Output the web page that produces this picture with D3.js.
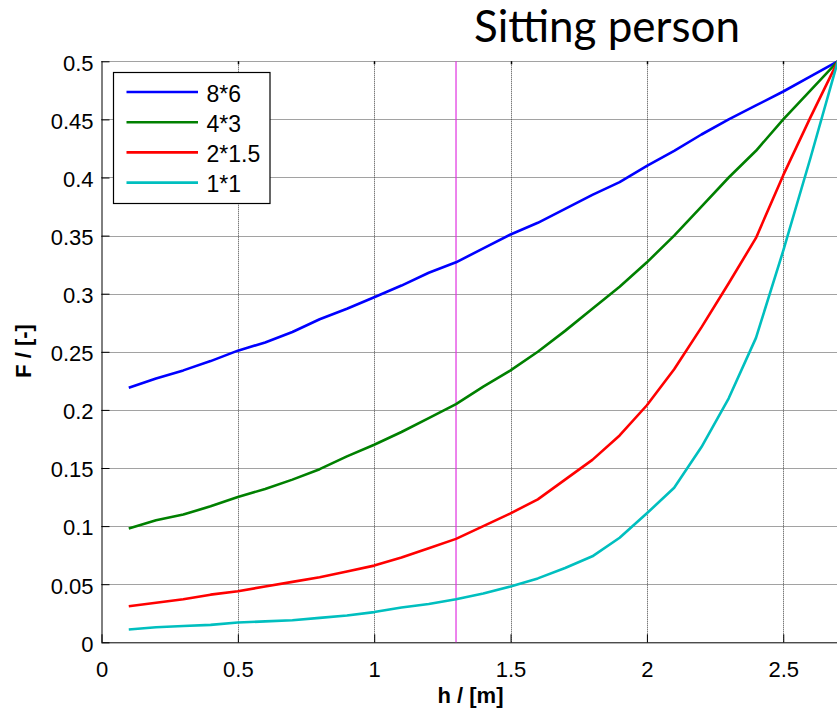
<!DOCTYPE html>
<html>
<head>
<meta charset="utf-8">
<script src="https://cdn.jsdelivr.net/npm/d3@7/dist/d3.min.js"></script>
<style>
  html, body { margin: 0; padding: 0; background: #fff; }
  svg { display: block; }
</style>
</head>
<body>
<svg id="chart" width="837" height="708"></svg>
<script>
// ---- data ----
const hValues = [0.1,0.2,0.3,0.4,0.5,0.6,0.7,0.8,0.9,1.0,1.1,1.2,1.3,1.4,1.5,1.6,1.7,1.8,1.9,2.0,2.1,2.2,2.3,2.4,2.5,2.6,2.7];
const series8x6 = [0.219,0.227,0.234,0.242,0.251,0.258,0.267,0.278,0.287,0.297,0.307,0.318,0.327,0.339,0.351,0.361,0.373,0.385,0.396,0.410,0.423,0.437,0.450,0.462,0.474,0.487,0.500];
const series4x3 = [0.098,0.105,0.110,0.117,0.125,0.132,0.140,0.149,0.160,0.170,0.181,0.193,0.205,0.220,0.234,0.250,0.268,0.287,0.306,0.327,0.350,0.375,0.400,0.423,0.450,0.475,0.500];
const series2x15 = [0.031,0.034,0.037,0.041,0.044,0.048,0.052,0.056,0.061,0.066,0.073,0.081,0.089,0.100,0.111,0.123,0.140,0.157,0.178,0.204,0.235,0.271,0.309,0.348,0.402,0.452,0.500];
const series1x1 = [0.011,0.013,0.014,0.015,0.017,0.018,0.019,0.021,0.023,0.026,0.030,0.033,0.037,0.042,0.048,0.055,0.064,0.074,0.090,0.111,0.133,0.168,0.210,0.262,0.337,0.417,0.500];
const seriesNames = ["8*6","4*3","2*1.5","1*1"];
const xTicks = [0,0.5,1,1.5,2,2.5];
const yTicks = [0,0.05,0.1,0.15,0.2,0.25,0.3,0.35,0.4,0.45,0.5];
const markerH = 1.3;
const titleText = "Sitting person";
const xLabel = "h / [m]";
const yLabel = "F / [-]";

// ---- drawing ----
const colors = ["#0000ff","#008000","#ff0000","#00bfbf"];
const allSeries = [series8x6, series4x3, series2x15, series1x1];

const svg = d3.select("#chart");
const pL = 101.5, pR = 837.8, pT = 61.3, pB = 642.3;
const x = d3.scaleLinear().domain([0, 2.7]).range([pL, pR]);
const y = d3.scaleLinear().domain([0, 0.5]).range([pB, pT]);

svg.append("rect").attr("width", 837).attr("height", 708).attr("fill", "#fff");

const fmt = d => String(+d.toFixed(2));
const tickFont = "'Liberation Sans', Arial, sans-serif";

// grid
const grid = svg.append("g");
grid.selectAll("line.gx").data(xTicks.filter(d => d > 0)).join("line")
  .attr("x1", d => Math.round(x(d)) + 0.5).attr("x2", d => Math.round(x(d)) + 0.5)
  .attr("y1", pT).attr("y2", pB)
  .attr("stroke", "#444").attr("stroke-width", 1).attr("stroke-dasharray", "1,1");
grid.selectAll("line.gy").data(yTicks.filter(d => d > 0)).join("line")
  .attr("x1", pL).attr("x2", 837)
  .attr("y1", d => Math.round(y(d)) + 0.5).attr("y2", d => Math.round(y(d)) + 0.5)
  .attr("stroke", "#444").attr("stroke-width", 1).attr("stroke-dasharray", "1,1");

// axes via d3
const xAxis = d3.axisBottom(x).tickValues(xTicks).tickFormat(fmt).tickSize(-8).tickPadding(19);
const gx = svg.append("g").attr("transform", `translate(0,${pB})`).call(xAxis);
gx.select(".domain").attr("d", `M${pL},0.5H837`).attr("stroke", "#000");
gx.selectAll(".tick line").attr("stroke", "#000");
gx.selectAll(".tick text").attr("font-family", tickFont).attr("font-size", 22).attr("fill", "#000");

const yAxis = d3.axisLeft(y).tickValues(yTicks).tickFormat(fmt).tickSize(-8).tickPadding(8);
const gy = svg.append("g").attr("transform", `translate(${pL},0)`).call(yAxis);
gy.select(".domain").attr("d", `M0.5,${pT}V${pB}`).attr("stroke", "#000");
gy.selectAll(".tick line").attr("stroke", "#000");
gy.selectAll(".tick text").attr("font-family", tickFont).attr("font-size", 22).attr("fill", "#000").attr("dy", "0.4em");

// top small ticks
svg.append("g").selectAll("line").data(xTicks.filter(d => d > 0)).join("line")
  .attr("x1", d => Math.round(x(d)) + 0.5).attr("x2", d => Math.round(x(d)) + 0.5)
  .attr("y1", pT).attr("y2", pT + 3)
  .attr("stroke", "#000").attr("stroke-width", 1.5);

// marker line
svg.append("line")
  .attr("x1", x(markerH)).attr("x2", x(markerH))
  .attr("y1", pT).attr("y2", pB)
  .attr("stroke", "#e030e0").attr("stroke-width", 1.2);

// data lines
const lineGen = d3.line().x((d, i) => x(hValues[i])).y(d => y(d));
svg.append("g").selectAll("path").data(allSeries).join("path")
  .attr("d", d => lineGen(d))
  .attr("fill", "none")
  .attr("stroke", (d, i) => colors[i])
  .attr("stroke-width", 2.6)
  .attr("stroke-linejoin", "round");

// legend
const lg = svg.append("g");
lg.append("rect").attr("x", 113.5).attr("y", 72.5).attr("width", 156.5).attr("height", 131)
  .attr("fill", "#fff").attr("stroke", "#000").attr("stroke-width", 1.2);
const items = lg.selectAll("g.item").data(seriesNames).join("g")
  .attr("transform", (d, i) => `translate(0,${92 + i * 30.2})`);
items.append("line").attr("x1", 126.5).attr("x2", 198).attr("y1", 0).attr("y2", 0)
  .attr("stroke", (d, i) => colors[i]).attr("stroke-width", 2.6);
items.append("text").attr("x", 206.5).attr("y", 9.5).text(d => d)
  .attr("font-family", tickFont).attr("font-size", 23).attr("fill", "#000");

// axis labels
svg.append("text").attr("x", 470.5).attr("y", 703).attr("text-anchor", "middle")
  .attr("font-family", tickFont).attr("font-weight", "bold").attr("font-size", 22).text(xLabel);
svg.append("text").attr("transform", "translate(31,351) rotate(-90)").attr("text-anchor", "middle")
  .attr("font-family", tickFont).attr("font-weight", "bold").attr("font-size", 22).text(yLabel);

// title
const t = svg.append("text").attr("x", 474).attr("y", 42)
  .attr("font-family", "Lato, 'Open Sans', sans-serif").attr("font-size", 44).attr("fill", "#000").text(titleText);
const w = t.node().getComputedTextLength();
if (w > 0) t.attr("font-size", Math.min(46, 44 * 266 / w));
</script>
</body>
</html>
